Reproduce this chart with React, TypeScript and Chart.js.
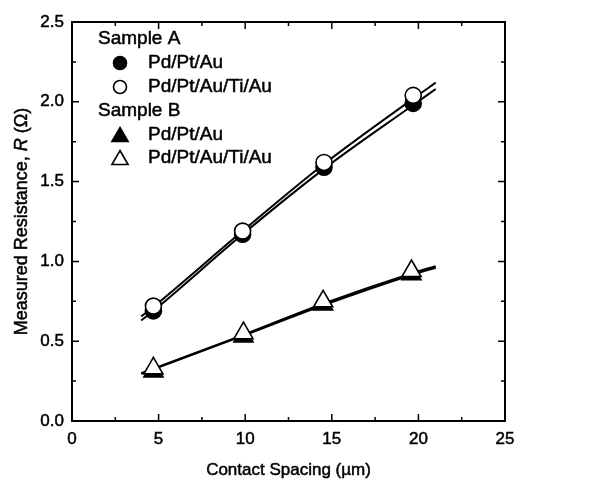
import React, { useEffect, useRef } from "react";
import { Chart, registerables } from "chart.js";

Chart.register(...registerables);

// ---- data ----
const xA = [4.7, 9.85, 14.55, 19.7];
const aFilled = [0.69, 1.17, 1.59, 1.99];
const aOpen = [0.72, 1.19, 1.62, 2.04];

const xB = [4.7, 9.9, 14.5, 19.6];
const bFilled = [0.31, 0.53, 0.73, 0.92];
const bOpen = [0.33, 0.55, 0.75, 0.94];

// fitted curves
const fitAX = [4.0, 4.7, 9.85, 14.55, 19.7, 21.0];
const fitAFilled = [0.63, 0.69, 1.17, 1.58, 1.98, 2.08];
const fitAOpen = [0.655, 0.715, 1.19, 1.61, 2.02, 2.12];

const fitBX = [4.0, 9.9, 14.5, 19.6, 21.0];
const fitBFilled = [0.295, 0.535, 0.725, 0.915, 0.96];
const fitBOpen = [0.3, 0.54, 0.735, 0.925, 0.97];

const xTickValues = [0, 5, 10, 15, 20, 25];
const yTickValues = [0, 0.5, 1.0, 1.5, 2.0, 2.5];

const legendHeaderA = "Sample A";
const legendHeaderB = "Sample B";
const labelPtAu = "Pd/Pt/Au";
const labelTiAu = "Pd/Pt/Au/Ti/Au";
const xTitle = "Contact Spacing (\u00b5m)";

const FONT = "'Liberation Sans', Arial, sans-serif";
const TEXT_STROKE = 0.5;

const pts = (xs: number[], ys: number[]) => xs.map((x, i) => ({ x, y: ys[i] }));

function drawMarker(ctx: CanvasRenderingContext2D, kind: string, filled: boolean, x: number, y: number, r: number) {
  ctx.save();
  ctx.beginPath();
  if (kind === "circle") {
    ctx.arc(x, y, r, 0, Math.PI * 2);
  } else {
    ctx.moveTo(x, y - r);
    ctx.lineTo(x + r * 0.95, y + r * 0.65);
    ctx.lineTo(x - r * 0.95, y + r * 0.65);
    ctx.closePath();
  }
  ctx.fillStyle = filled ? "#000" : "#fff";
  ctx.fill();
  ctx.lineWidth = 1.6;
  ctx.strokeStyle = "#000";
  ctx.stroke();
  ctx.restore();
}

function boldText(ctx: CanvasRenderingContext2D, t: string, x: number, y: number) {
  ctx.fillText(t, x, y);
  ctx.lineWidth = TEXT_STROKE;
  ctx.strokeStyle = "#000";
  ctx.strokeText(t, x, y);
}

const decorPlugin = {
  id: "decor",
  afterDraw(chart: any) {
    const { ctx, chartArea } = chart;
    const xs = chart.scales.x;
    const ys = chart.scales.y;
    const { left, right, top, bottom } = chartArea;
    ctx.save();
    ctx.strokeStyle = "#000";
    ctx.lineWidth = 2;
    ctx.strokeRect(left, top, right - left, bottom - top);

    // inward ticks on all four sides
    ctx.lineWidth = 1.5;
    for (let v = 0; v <= 25.001; v += 2.5) {
      const px = xs.getPixelForValue(v);
      const major = Math.abs(v / 5 - Math.round(v / 5)) < 1e-6;
      const len = major ? 7 : 4;
      ctx.beginPath();
      ctx.moveTo(px, bottom);
      ctx.lineTo(px, bottom - len);
      ctx.moveTo(px, top);
      ctx.lineTo(px, top + len);
      ctx.stroke();
    }
    for (let v = 0; v <= 2.5001; v += 0.25) {
      const py = ys.getPixelForValue(v);
      const major = Math.abs(v / 0.5 - Math.round(v / 0.5)) < 1e-6;
      const len = major ? 7 : 4;
      ctx.beginPath();
      ctx.moveTo(left, py);
      ctx.lineTo(left + len, py);
      ctx.moveTo(right, py);
      ctx.lineTo(right - len, py);
      ctx.stroke();
    }

    // x title
    ctx.fillStyle = "#000";
    ctx.font = `17px ${FONT}`;
    ctx.textAlign = "center";
    ctx.textBaseline = "middle";
    boldText(ctx, xTitle, (left + right) / 2, 470);

    // y title with italic R
    const parts = [
      { t: "Measured Resistance, ", f: `18px ${FONT}` },
      { t: "R", f: `italic 18px ${FONT}` },
      { t: " (\u03a9)", f: `18px ${FONT}` },
    ];
    let total = 0;
    const widths = parts.map((p) => {
      ctx.font = p.f;
      const w = ctx.measureText(p.t).width;
      total += w;
      return w;
    });
    ctx.save();
    ctx.translate(22, (top + bottom) / 2);
    ctx.rotate(-Math.PI / 2);
    ctx.textAlign = "left";
    let cx = -total / 2;
    parts.forEach((p, i) => {
      ctx.font = p.f;
      boldText(ctx, p.t, cx, 0);
      cx += widths[i];
    });
    ctx.restore();

    // legend
    ctx.font = `19px ${FONT}`;
    ctx.textAlign = "left";
    ctx.textBaseline = "middle";
    const rows: { y: number; text: string; marker?: [string, boolean] }[] = [
      { y: 39, text: legendHeaderA },
      { y: 63, text: labelPtAu, marker: ["circle", true] },
      { y: 87, text: labelTiAu, marker: ["circle", false] },
      { y: 111, text: legendHeaderB },
      { y: 135, text: labelPtAu, marker: ["triangle", true] },
      { y: 158, text: labelTiAu, marker: ["triangle", false] },
    ];
    rows.forEach((r) => {
      if (r.marker) {
        const isC = r.marker[0] === "circle";
        drawMarker(ctx, r.marker[0], r.marker[1], 120, isC ? r.y : r.y + 1, isC ? 6.5 : 8.5);
        boldText(ctx, r.text, 148, r.y);
      } else {
        boldText(ctx, r.text, 98, r.y);
      }
    });
    ctx.restore();
  },
};

export default function App() {
  const ref = useRef<HTMLCanvasElement | null>(null);
  useEffect(() => {
    if (!ref.current) return;
    const lineDs = (data: { x: number; y: number }[]) => ({
      type: "line" as const,
      data,
      showLine: true,
      borderColor: "#000",
      borderWidth: 2,
      pointRadius: 0,
      fill: false,
      cubicInterpolationMode: "monotone" as const,
    });
    const chart = new Chart(ref.current, {
      type: "scatter",
      data: {
        datasets: [
          {
            data: pts(xA, aOpen),
            pointStyle: "circle",
            pointRadius: 8,
            pointBackgroundColor: "#fff",
            pointBorderColor: "#000",
            pointBorderWidth: 1.6,
          },
          {
            data: pts(xB, bOpen),
            pointStyle: "triangle",
            pointRadius: 11,
            pointBackgroundColor: "#fff",
            pointBorderColor: "#000",
            pointBorderWidth: 1.6,
          },
          {
            data: pts(xA, aFilled),
            pointStyle: "circle",
            pointRadius: 8,
            pointBackgroundColor: "#000",
            pointBorderColor: "#000",
            pointBorderWidth: 1.6,
          },
          {
            data: pts(xB, bFilled),
            pointStyle: "triangle",
            pointRadius: 11,
            pointBackgroundColor: "#000",
            pointBorderColor: "#000",
            pointBorderWidth: 1.6,
          },
          lineDs(pts(fitAX, fitAFilled)),
          lineDs(pts(fitAX, fitAOpen)),
          lineDs(pts(fitBX, fitBFilled)),
          lineDs(pts(fitBX, fitBOpen)),
        ] as any,
      },
      options: {
        responsive: false,
        animation: false,
        layout: { padding: { top: 22, right: 98, left: 0, bottom: 0 } },
        plugins: { legend: { display: false }, tooltip: { enabled: false } },
        scales: {
          x: {
            type: "linear",
            min: 0,
            max: 25,
            afterBuildTicks: (s: any) => {
              s.ticks = xTickValues.map((v) => ({ value: v }));
            },
            afterFit: (s: any) => {
              s.height = 62;
            },
            ticks: {
              color: "#000",
              textStrokeColor: "#000",
              textStrokeWidth: TEXT_STROKE,
              font: { family: FONT, size: 17 },
              padding: 4,
              maxRotation: 0,
              autoSkip: false,
            },
            grid: { display: false, drawTicks: true, tickLength: 4, tickColor: "transparent" },
            border: { display: false },
          },
          y: {
            type: "linear",
            min: 0,
            max: 2.5,
            afterBuildTicks: (s: any) => {
              s.ticks = yTickValues.map((v) => ({ value: v }));
            },
            afterFit: (s: any) => {
              s.width = 72;
            },
            ticks: {
              color: "#000",
              textStrokeColor: "#000",
              textStrokeWidth: TEXT_STROKE,
              font: { family: FONT, size: 17 },
              padding: 4,
              autoSkip: false,
              callback: (v: any) => Number(v).toFixed(1),
            },
            grid: { display: false, drawTicks: true, tickLength: 4, tickColor: "transparent" },
            border: { display: false },
          },
        },
      },
      plugins: [decorPlugin],
    });
    return () => chart.destroy();
  }, []);
  return (
    <div style={{ position: "fixed", left: 0, top: 0, width: 603, height: 483, background: "#fff" }}>
      <canvas ref={ref} width={603} height={483} style={{ width: 603, height: 483 }} />
    </div>
  );
}
